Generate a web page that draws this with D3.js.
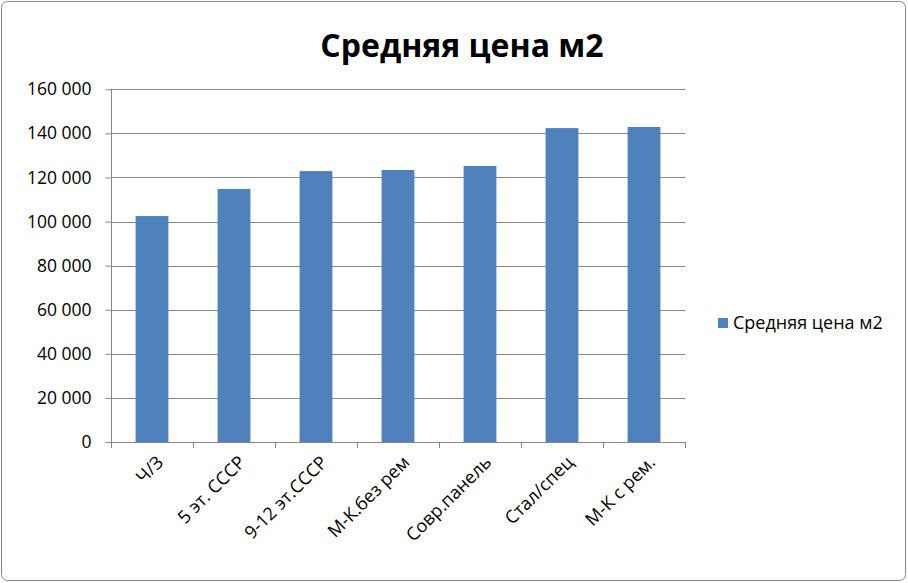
<!DOCTYPE html>
<html>
<head>
<meta charset="utf-8">
<script src="https://cdn.jsdelivr.net/npm/d3@7"></script>
<style>
  html, body { margin: 0; padding: 0; background: #fff; }
  svg { display: block; }
  text { font-family: "Open Sans", "Noto Sans", sans-serif; fill: #000; }
</style>
</head>
<body>
<svg id="chart" width="908" height="583"></svg>
<script>
const categories = ["Ч/З", "5 эт. СССР", "9-12 эт.СССР", "М-К.без рем", "Совр.панель", "Стал/спец", "М-К с рем."];
const values = [102500, 114800, 122900, 123400, 125200, 142400, 142900];
const seriesName = "Средняя цена м2";
const title = "Средняя цена м2";
const yTicks = [0, 20000, 40000, 60000, 80000, 100000, 120000, 140000, 160000];

const svg = d3.select("#chart");
const W = 908, H = 583;
const plot = { left: 111, right: 685, top: 89.3, bottom: 442 };
const gridColor = "#868686";
const barColor = "#4F81BD";

// outer frame
svg.append("rect")
  .attr("x", 1.5).attr("y", 1.5)
  .attr("width", W - 4).attr("height", H - 4)
  .attr("rx", 6).attr("ry", 6)
  .attr("fill", "#fff").attr("stroke", "#868686").attr("stroke-width", 1);

// title
svg.append("text")
  .attr("x", 462).attr("y", 57)
  .attr("text-anchor", "middle")
  .style("font-size", "32px").style("font-weight", "bold")
  .text(title);

const x = d3.scaleBand().domain(categories).range([plot.left, plot.right]).paddingInner(0.6).paddingOuter(0.3);
const xb = d3.scaleBand().domain(categories).range([plot.left, plot.right]);
const y = d3.scaleLinear().domain([0, 160000]).range([plot.bottom, plot.top]);

const fmt = v => d3.format(",")(v).replace(/,/g, " ");

// gridlines
svg.append("g").selectAll("line").data(yTicks.filter(t => t > 0)).join("line")
  .attr("x1", plot.left).attr("x2", plot.right)
  .attr("y1", d => Math.round(y(d)) + 0.5).attr("y2", d => Math.round(y(d)) + 0.5)
  .attr("stroke", gridColor).attr("stroke-width", 1);

// bars
svg.append("g").selectAll("rect").data(values).join("rect")
  .attr("x", (d, i) => x(categories[i]))
  .attr("width", x.bandwidth())
  .attr("y", d => y(d))
  .attr("height", d => plot.bottom - y(d))
  .attr("fill", barColor);

// y axis
const yAxis = d3.axisLeft(y).tickValues(yTicks).tickSize(6).tickPadding(14).tickFormat(fmt);
const gy = svg.append("g").attr("transform", `translate(${plot.left + 0.5},0)`).call(yAxis);
gy.select(".domain").attr("stroke", gridColor).attr("d", `M-0,${plot.top}V${plot.bottom}`);
gy.selectAll(".tick line").attr("stroke", gridColor);
gy.selectAll(".tick text").style("font-size", "17.5px").style("font-family", "'Open Sans', sans-serif").attr("fill", "#000");

// x axis line and ticks at band boundaries
const gx = svg.append("g");
gx.append("line")
  .attr("x1", plot.left).attr("x2", plot.right)
  .attr("y1", plot.bottom + 0.5).attr("y2", plot.bottom + 0.5)
  .attr("stroke", gridColor);
const bounds = categories.map(c => xb(c)).concat([plot.right]);
gx.selectAll("line.tk").data(bounds).join("line").attr("class", "tk")
  .attr("x1", d => Math.round(d) + 0.5).attr("x2", d => Math.round(d) + 0.5)
  .attr("y1", plot.bottom).attr("y2", plot.bottom + 6)
  .attr("stroke", gridColor);

// x labels rotated
gx.selectAll("text").data(categories).join("text")
  .attr("transform", c => `translate(${xb(c) + xb.bandwidth() / 2 + 8},${plot.bottom + 17}) rotate(-45)`)
  .attr("text-anchor", "end")
  .attr("dy", "0.35em")
  .style("font-size", "18px")
  .text(c => c);

// legend
const lg = svg.append("g").attr("transform", "translate(718,318)");
lg.append("rect").attr("width", 10).attr("height", 10).attr("fill", barColor);
lg.append("text").attr("x", 15).attr("y", 5).attr("dy", "0.35em")
  .style("font-size", "18px").text(seriesName);
</script>
</body>
</html>
